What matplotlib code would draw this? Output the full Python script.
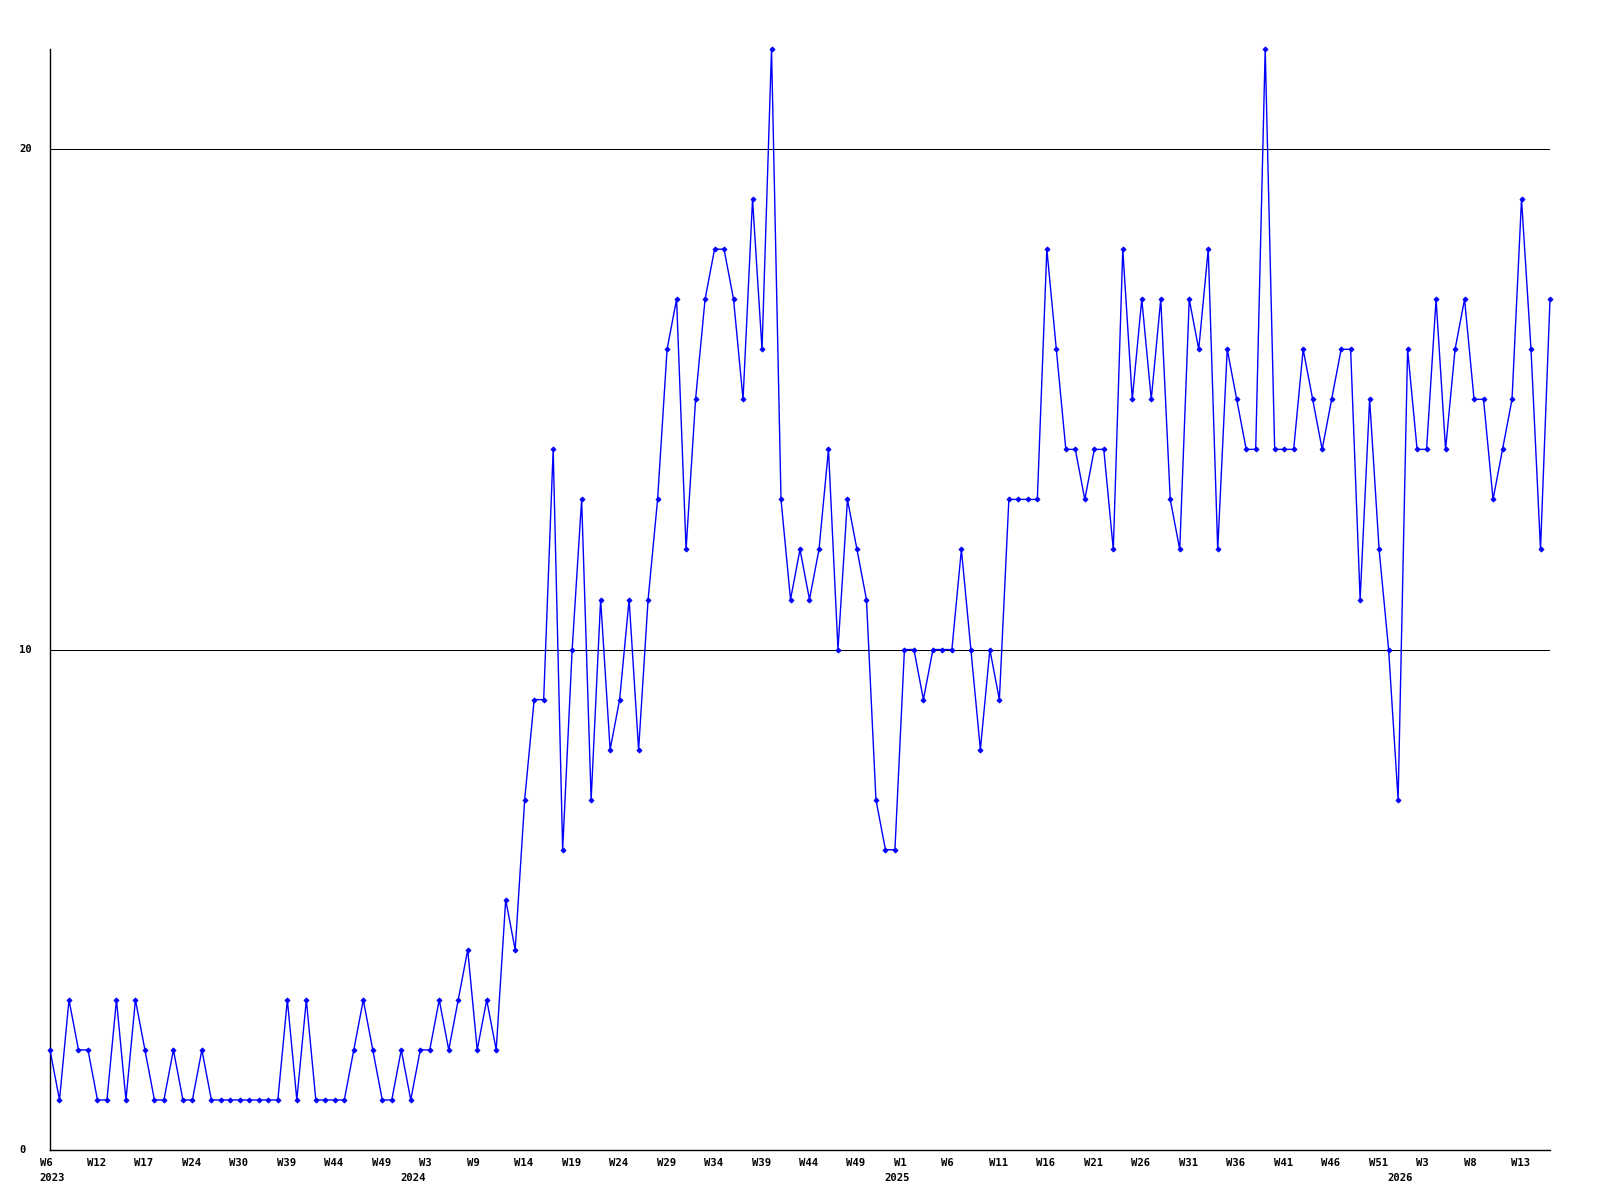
import matplotlib
matplotlib.use("Agg")
import matplotlib.pyplot as plt
import matplotlib.transforms as mtransforms

# ---- data ----
values = [
    2, 1, 3, 2, 2, 1, 1, 3, 1, 3, 2, 1, 1, 2, 1, 1, 2, 1, 1, 1,
    1, 1, 1, 1, 1, 3, 1, 3, 1, 1, 1, 1, 2, 3, 2, 1, 1, 2, 1, 2,
    2, 3, 2, 3, 4, 2, 3, 2, 5, 4, 7, 9, 9, 14, 6, 10, 13, 7, 11, 8,
    9, 11, 8, 11, 13, 16, 17, 12, 15, 17, 18, 18, 17, 15, 19, 16, 22, 13, 11, 12,
    11, 12, 14, 10, 13, 12, 11, 7, 6, 6, 10, 10, 9, 10, 10, 10, 12, 10, 8, 10,
    9, 13, 13, 13, 13, 18, 16, 14, 14, 13, 14, 14, 12, 18, 15, 17, 15, 17, 13, 12,
    17, 16, 18, 12, 16, 15, 14, 14, 22, 14, 14, 14, 16, 15, 14, 15, 16, 16, 11, 15,
    12, 10, 7, 16, 14, 14, 17, 14, 16, 17, 15, 15, 13, 14, 15, 19, 16, 12, 17,
]

week_labels = [
    "W6", "W12", "W17", "W24", "W30", "W39", "W44", "W49",
    "W3", "W9", "W14", "W19", "W24", "W29", "W34", "W39", "W44", "W49",
    "W1", "W6", "W11", "W16", "W21", "W26", "W31", "W36", "W41", "W46", "W51",
    "W3", "W8", "W13",
]
week_label_step = 5

year_labels = ["2023", "2024", "2025", "2026"]
year_label_points = [0, 38, 89, 142]

y_ticks = [0, 10, 20]
y_max = 22

# ---- figure ----
W, H, DPI = 1600, 1200, 100
fig = plt.figure(figsize=(W / DPI, H / DPI), dpi=DPI, facecolor="white")
ax = fig.add_axes([50 / W, 1 - 1150 / H, 1500 / W, 1101 / H])

x = list(range(len(values)))
ax.plot(x, values, color="#0000ff", lw=1.0, marker="D", ms=2.6,
        mfc="#0000ff", mec="#0000ff", mew=0.6, clip_on=False, zorder=3)

ax.set_xlim(0, len(values) - 1)
ax.set_ylim(0, y_max)

for s in ("top", "right"):
    ax.spines[s].set_visible(False)
for s in ("left", "bottom"):
    ax.spines[s].set_color("black")
    ax.spines[s].set_linewidth(1.0)

ax.set_yticks(y_ticks)
ax.yaxis.grid(True, color="black", lw=0.75)
ax.set_axisbelow(True)

font = dict(family="DejaVu Sans Mono", weight="bold", size=7.6)

ax.tick_params(axis="y", length=0, pad=0)
ax.set_yticklabels([str(v) for v in y_ticks], **font)
yoff = mtransforms.ScaledTranslation(-30.5 / DPI, 0, fig.dpi_scale_trans)
for lab in ax.get_yticklabels():
    lab.set_ha("left")
    lab.set_va("center")
    lab.set_transform(lab.get_transform() + yoff)

xt = [i * week_label_step for i in range(len(week_labels))]
ax.set_xticks(xt)
ax.tick_params(axis="x", length=0, pad=5.5)
ax.set_xticklabels(week_labels, **font)
xoff = mtransforms.ScaledTranslation(-10.5 / DPI, 0, fig.dpi_scale_trans)
for lab in ax.get_xticklabels():
    lab.set_ha("left")
    lab.set_transform(lab.get_transform() + xoff)

blend = mtransforms.blended_transform_factory(ax.transData, ax.transAxes)
for lbl, p in zip(year_labels, year_label_points):
    ax.text(p, 0, lbl, transform=blend + mtransforms.ScaledTranslation(-10.5 / DPI, -23 / DPI, fig.dpi_scale_trans),
            ha="left", va="top", **font)

fig.savefig("out.png", dpi=DPI, facecolor="white")
